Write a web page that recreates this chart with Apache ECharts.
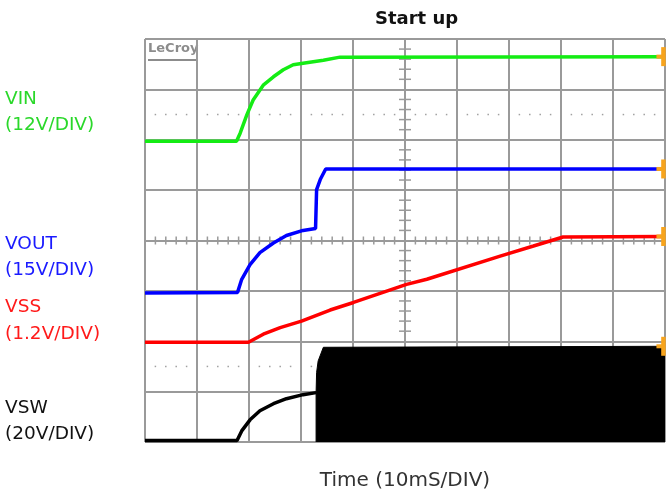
<!DOCTYPE html>
<html><head><meta charset="utf-8">
<script src="https://cdn.jsdelivr.net/npm/echarts@6/dist/echarts.min.js"></script>
<style>html,body{margin:0;padding:0;background:#fff}#c{width:667px;height:496px}</style>
</head><body><div id="c"></div>
<script>
// x: time in ms (10 ms / div), y: screen divisions (0..8)
const vin = [[0,5.97],[17.6,5.97],[18.3,6.13],[19.6,6.50],[20.8,6.79],[22.8,7.09],[24.7,7.25],[26.6,7.39],[28.5,7.49],[30.4,7.52],[34.3,7.58],[37.5,7.64],[100,7.65]];
const vout = [[0,2.96],[17.8,2.97],[18.6,3.23],[20.2,3.52],[22.1,3.76],[24.7,3.95],[27.2,4.10],[30.4,4.20],[32.8,4.24],[33.0,5.01],[33.7,5.21],[34.75,5.42],[100,5.42]];
const vss = [[0,1.98],[19.9,1.98],[22.75,2.14],[26,2.27],[30.1,2.40],[35.6,2.62],[40.1,2.77],[50.3,3.13],[54.2,3.23],[68.3,3.69],[74.7,3.89],[80.4,4.07],[100,4.08]];
const vswRamp = [[0,0.03],[17.7,0.03],[18.6,0.22],[20.2,0.44],[22.1,0.62],[24.7,0.76],[27.2,0.86],[30.4,0.94],[32.9,0.98]];
const vswBurst = [[32.9,0],[32.9,0.98],[33.0,1.38],[33.3,1.61],[34.3,1.88],[100,1.90]];
const channelLabels = [
  {name:'VIN', scale:'(12V/DIV)', color:'#2ad82a'},
  {name:'VOUT', scale:'(15V/DIV)', color:'#1a1aff'},
  {name:'VSS', scale:'(1.2V/DIV)', color:'#ff1a1a'},
  {name:'VSW', scale:'(20V/DIV)', color:'#111111'}
];
const titleText = 'Start up';
const xName = 'Time (10mS/DIV)';

const FONT = 'DejaVu Sans';
const chart = echarts.init(document.getElementById('c'));
const markerX = 99.7;
const lastOf = a => a[a.length-1][1];
const markerData = [vin, vout, vss, vswBurst].map(a => [markerX, lastOf(a)]);
const labelY = [[100,126],[245,271],[308,335],[409,435]];
const graphic = [];
channelLabels.forEach((c,i)=>{
  graphic.push({type:'text', left:5, top:labelY[i][0]-10, style:{text:c.name, fill:c.color, font:'18.5px "'+FONT+'"'}});
  graphic.push({type:'text', left:5, top:labelY[i][1]-10, style:{text:c.scale, fill:c.color, font:'18.5px "'+FONT+'"'}});
});
graphic.push({type:'text', left:148, top:42, style:{text:'LeCroy', fill:'#8c8c8c', font:'bold 13px "'+FONT+'"'}});
graphic.push({type:'rect', left:148, top:59, shape:{width:49, height:2}, style:{fill:'#8c8c8c'}});

const gridColor = '#9a9a9a';
chart.setOption({
  animation:false,
  backgroundColor:'#fff',
  title:{text:titleText, left:375, top:10, padding:0, textStyle:{fontFamily:FONT, fontWeight:'bold', fontSize:18, color:'#111'}},
  grid:{left:145, right:2, top:39, bottom:53},
  xAxis:{type:'value', min:0, max:100, interval:10,
    name:xName, nameLocation:'middle', nameGap:29,
    nameTextStyle:{fontFamily:FONT, fontSize:20, color:'#333'},
    axisLabel:{show:false}, axisTick:{show:false}, axisLine:{show:false},
    splitLine:{show:true, lineStyle:{color:gridColor, width:2}}},
  yAxis:{type:'value', min:0, max:8, interval:1,
    axisLabel:{show:false}, axisTick:{show:false}, axisLine:{show:false},
    splitLine:{show:true, lineStyle:{color:gridColor, width:2}}},
  graphic:graphic,
  series:[
    {type:'custom', silent:true, z:1, data:[[0,0]], clip:false,
     renderItem:(params, api)=>{
       const ch=[];
       const st={stroke:gridColor, lineWidth:1.5};
       for(let k=1;k<50;k++){ if(k%5===0) continue; const c=api.coord([k*2,4]);
         ch.push({type:'line', shape:{x1:c[0],y1:c[1]-4,x2:c[0],y2:c[1]+4}, style:st}); }
       for(let k=1;k<40;k++){ if(k%5===0) continue; const c=api.coord([50,k*0.2]);
         ch.push({type:'line', shape:{x1:c[0]-6,y1:c[1],x2:c[0]+6,y2:c[1]}, style:st}); }
       [6.5,1.5].forEach(v=>{
         for(let k=1;k<50;k++){ if(k%5===0) continue; const c=api.coord([k*2,v]);
           ch.push({type:'rect', shape:{x:c[0]-0.75,y:c[1]-0.75,width:1.5,height:1.5}, style:{fill:'#a0a0a0'}}); }
       });
       return {type:'group', children:ch};
     }},
    {type:'line', data:vswBurst, showSymbol:false, z:3, lineStyle:{color:'#000', width:1},
     areaStyle:{color:'#000', opacity:1, origin:'start'}},
    {type:'line', data:vswRamp, showSymbol:false, z:3, lineStyle:{color:'#000', width:3.5}},
    {type:'line', data:vss, showSymbol:false, z:3, lineStyle:{color:'#ff0000', width:3.5}},
    {type:'line', data:vout, showSymbol:false, z:3, lineStyle:{color:'#0000ff', width:3.5}},
    {type:'line', data:vin, showSymbol:false, z:3, lineStyle:{color:'#14ec14', width:3.5}},
    {type:'scatter', data:markerData, z:5, symbol:'rect', symbolSize:[4.5,19], itemStyle:{color:'#f7a41d', opacity:1}, clip:false},
    {type:'scatter', data:markerData, z:5, symbol:'rect', symbolSize:[8,4], symbolOffset:[-3,0], itemStyle:{color:'#f7a41d', opacity:1}, clip:false}
  ]
});
</script></body></html>
